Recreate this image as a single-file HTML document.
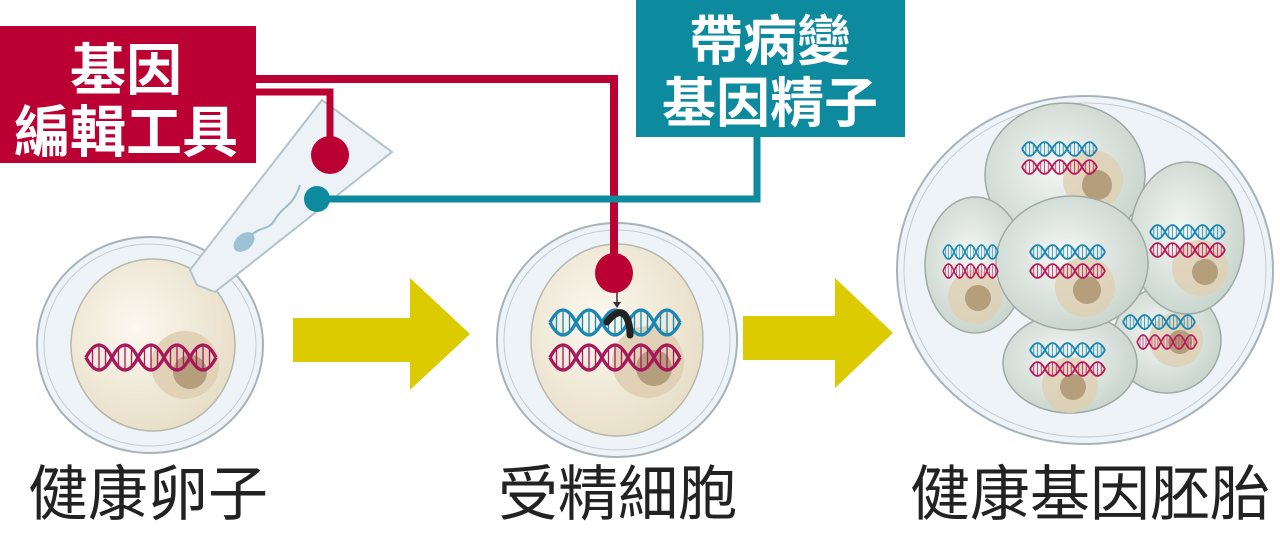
<!DOCTYPE html>
<html><head><meta charset="utf-8"><style>
html,body{margin:0;padding:0;background:#fff;}
svg{display:block;}
text{font-family:"Liberation Sans","Noto Sans CJK TC",sans-serif;}
</style></head><body>
<svg width="1280" height="534" viewBox="0 0 1280 534" xmlns="http://www.w3.org/2000/svg">
<defs>
<radialGradient id="egg" cx="0.4" cy="0.4" r="0.7"><stop offset="0" stop-color="#fbf8ef"/><stop offset="1" stop-color="#e6dcc4"/></radialGradient>
<radialGradient id="cell" cx="0.45" cy="0.45" r="0.65"><stop offset="0" stop-color="#f4f7f4"/><stop offset="1" stop-color="#c3d0c8"/></radialGradient>
<g id="dna" fill="none">
<path d="M0,10 Q10,-10 20,10 T40,10 T60,10 T80,10 T100,10" stroke-width="2.6"/>
<path d="M0,10 Q10,30 20,10 T40,10 T60,10 T80,10 T100,10" stroke-width="2.6"/>
<path d="M5,4V16M10,1V19M15,4V16M25,4V16M30,1V19M35,4V16M45,4V16M50,1V19M55,4V16M65,4V16M70,1V19M75,4V16M85,4V16M90,1V19M95,4V16" stroke-width="1"/>
</g>
</defs>

<!-- egg 1 -->
<ellipse cx="150" cy="345" rx="113" ry="108" fill="#eef3f7" stroke="#a7b3ba" stroke-width="2"/>
<ellipse cx="150" cy="345" rx="106" ry="101" fill="none" stroke="#c3ccd2" stroke-width="1"/>
<ellipse cx="153" cy="345" rx="82" ry="86" fill="url(#egg)" stroke="#b7b8ad" stroke-width="1.5"/>
<circle cx="185" cy="365" r="34" fill="#dfcfb2" opacity="0.9"/>
<circle cx="190" cy="372" r="17" fill="#b49e7b"/>
<use href="#dna" transform="translate(86,345) scale(1.3,1.25)" stroke="#a8185a"/>

<!-- pipette -->
<polygon points="322,100 392,152 215,292 197,285 190,270" fill="#ecf2f6" stroke="#b4c2cb" stroke-width="2"/>
<path d="M250,236 C262,225 268,232 276,218 C284,205 292,208 300,185" fill="none" stroke="#9bbccb" stroke-width="2"/>
<ellipse cx="244" cy="242" rx="12" ry="8" transform="rotate(-40 244 242)" fill="#9cc2d3"/>

<!-- egg 2 -->
<ellipse cx="617" cy="340" rx="120" ry="117" fill="#eef3f7" stroke="#a7b3ba" stroke-width="2"/>
<ellipse cx="617" cy="340" rx="113" ry="110" fill="none" stroke="#c3ccd2" stroke-width="1"/>
<ellipse cx="617" cy="340" rx="86" ry="96" fill="url(#egg)" stroke="#b7b8ad" stroke-width="1.5"/>
<circle cx="648" cy="362" r="36" fill="#dfcfb2" opacity="0.9"/>
<circle cx="654" cy="368" r="18" fill="#b49e7b"/>
<use href="#dna" transform="translate(550,310) scale(1.3,1.25)" stroke="#1a86b4"/>
<use href="#dna" transform="translate(550,345) scale(1.3,1.25)" stroke="#a8185a"/>
<path d="M607,322 Q618,308 625,315 Q630,322 630,335" fill="none" stroke="#222" stroke-width="7" stroke-linecap="round"/>
<path d="M617,290V305" stroke="#333" stroke-width="1.5"/><path d="M613,302L617,308L621,302Z" fill="#333"/>

<!-- arrows -->
<polygon points="293,318 410,318 410,278 470,334 410,390 410,362 293,362" fill="#dccb00"/>
<polygon points="743,316 835,316 835,278 893,333 835,388 835,360 743,360" fill="#dccb00"/>

<!-- embryo -->
<ellipse cx="1085" cy="270" rx="188" ry="174" fill="#eef3f7" stroke="#a7b3ba" stroke-width="2"/>
<ellipse cx="1085" cy="270" rx="181" ry="167" fill="none" stroke="#c3ccd2" stroke-width="1"/>
<g stroke="#9eaaa5" stroke-width="1.5">
<ellipse cx="1065" cy="175" rx="80" ry="72" fill="url(#cell)"/>
<circle cx="1093" cy="180" r="30" fill="#dfcfb2" opacity="0.8" stroke="none"/><circle cx="1097" cy="185" r="15" fill="#b49e7b" stroke="none"/>
<ellipse cx="1167" cy="340" rx="54" ry="53" fill="url(#cell)"/>
<circle cx="1176" cy="340" r="27" fill="#dfcfb2" opacity="0.8" stroke="none"/><circle cx="1180" cy="342" r="12" fill="#b49e7b" stroke="none"/>
<ellipse cx="1187" cy="238" rx="57" ry="76" fill="url(#cell)"/>
<circle cx="1200" cy="268" r="28" fill="#dfcfb2" opacity="0.8" stroke="none"/><circle cx="1205" cy="272" r="13" fill="#b49e7b" stroke="none"/>
<ellipse cx="1070" cy="363" rx="67" ry="50" fill="url(#cell)"/>
<circle cx="1070" cy="385" r="28" fill="#dfcfb2" opacity="0.8" stroke="none"/><circle cx="1073" cy="387" r="13" fill="#b49e7b" stroke="none"/>
<ellipse cx="975" cy="265" rx="50" ry="68" fill="url(#cell)"/>
<circle cx="975" cy="297" r="27" fill="#dfcfb2" opacity="0.8" stroke="none"/><circle cx="978" cy="298" r="13" fill="#b49e7b" stroke="none"/>
<ellipse cx="1072" cy="263" rx="76" ry="67" fill="url(#cell)"/>
<circle cx="1085" cy="287" r="30" fill="#dfcfb2" opacity="0.8" stroke="none"/><circle cx="1087" cy="290" r="14" fill="#b49e7b" stroke="none"/>
</g>
<g>
<use href="#dna" transform="translate(1022,142) scale(0.75,0.7)" stroke="#1a86b4"/>
<use href="#dna" transform="translate(1022,160) scale(0.75,0.7)" stroke="#b81a5a"/>
<use href="#dna" transform="translate(1150,225) scale(0.75,0.7)" stroke="#1a86b4"/>
<use href="#dna" transform="translate(1150,243) scale(0.75,0.7)" stroke="#b81a5a"/>
<use href="#dna" transform="translate(1123,315) scale(0.72,0.7)" stroke="#1a86b4"/>
<use href="#dna" transform="translate(1137,335) scale(0.6,0.7)" stroke="#b81a5a"/>
<use href="#dna" transform="translate(1030,343) scale(0.75,0.7)" stroke="#1a86b4"/>
<use href="#dna" transform="translate(1030,362) scale(0.75,0.7)" stroke="#b81a5a"/>
<use href="#dna" transform="translate(943,245) scale(0.55,0.7)" stroke="#1a86b4"/>
<use href="#dna" transform="translate(943,264) scale(0.55,0.7)" stroke="#b81a5a"/>
<use href="#dna" transform="translate(1030,245) scale(0.75,0.7)" stroke="#1a86b4"/>
<use href="#dna" transform="translate(1030,264) scale(0.75,0.7)" stroke="#b81a5a"/>
</g>

<!-- connectors -->
<path d="M250,79H614V270" fill="none" stroke="#bb0033" stroke-width="8"/>
<path d="M250,92H330V150" fill="none" stroke="#bb0033" stroke-width="7"/>
<ellipse cx="614" cy="273" rx="19" ry="20" fill="#bb0033"/>
<ellipse cx="330" cy="155" rx="19" ry="19" fill="#bb0033"/>
<path d="M757,130V199H316" fill="none" stroke="#0e8a9e" stroke-width="7"/>
<circle cx="317" cy="199" r="13" fill="#0e8a9e"/>

<!-- label boxes -->
<rect x="0" y="26" width="256" height="137" fill="#bb0033"/>
<text x="126" y="90" font-size="56" fill="#fff" text-anchor="middle" font-weight="bold">基因</text>
<text x="126" y="152" font-size="56" fill="#fff" text-anchor="middle" font-weight="bold">編輯工具</text>
<rect x="636" y="0" width="269" height="137" fill="#0e8a9e"/>
<text x="770" y="60" font-size="54" fill="#fff" text-anchor="middle" font-weight="bold">帶病變</text>
<text x="770" y="122" font-size="54" fill="#fff" text-anchor="middle" font-weight="bold">基因精子</text>

<!-- bottom labels -->
<text x="148" y="515" font-size="60" fill="#222" text-anchor="middle">健康卵子</text>
<text x="618" y="515" font-size="60" fill="#222" text-anchor="middle">受精細胞</text>
<text x="1090" y="515" font-size="60" fill="#222" text-anchor="middle">健康基因胚胎</text>
</svg>
</body></html>
